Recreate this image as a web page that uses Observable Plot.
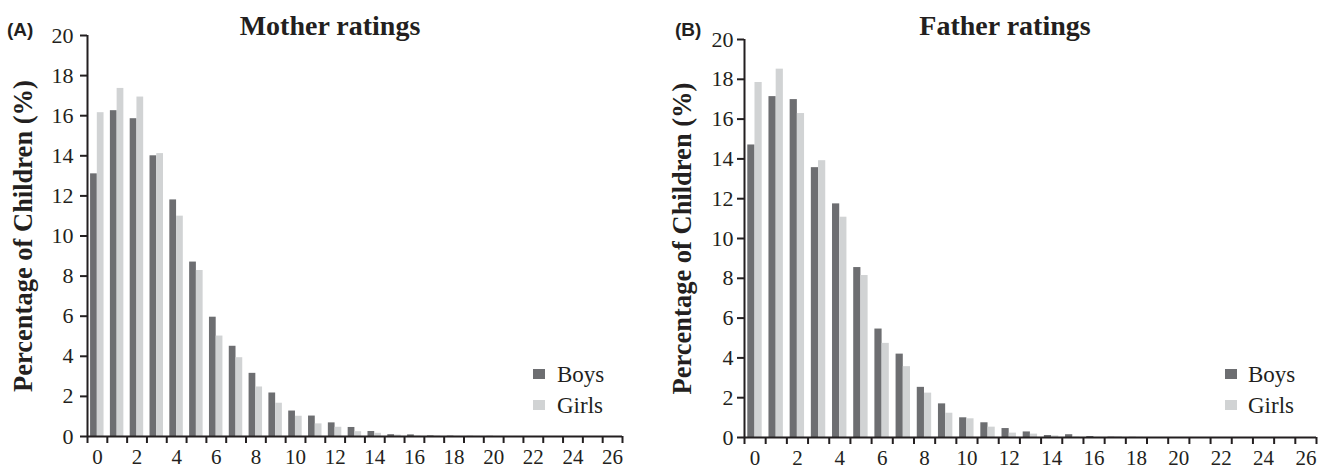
<!DOCTYPE html>
<html><head><meta charset="utf-8">
<script src="https://cdn.jsdelivr.net/npm/d3@7"></script>
<script src="https://cdn.jsdelivr.net/npm/@observablehq/plot@0.6"></script>
<style>
body{margin:0;background:#fff;}
#wrap{position:relative;width:1328px;height:472px;overflow:hidden;font-family:"Liberation Serif","Times New Roman",serif;color:#231f20;background:#fff;}
#wrap svg{position:absolute;top:0;}
.abs{position:absolute;white-space:nowrap;line-height:1;}
.title{font-weight:bold;font-size:28px;transform:translateX(-50%);}
.tag{font-family:"Liberation Sans",Arial,sans-serif;font-weight:bold;font-size:19px;}
.leg{font-size:23px;}
.sw{position:absolute;width:12px;height:10px;}
</style></head><body><div id="wrap"></div>
<script>
// score categories 0..26
const scores = d3.range(0, 27);
const yTicks = d3.range(0, 21, 2);
const xLabels = d3.range(0, 27, 2);
const seriesNames = ["Boys", "Girls"];
const panelTitles = ["Mother ratings", "Father ratings"];
const panelTags = ["(A)", "(B)"];
const yLabel = "Percentage of Children (%)";

const motherBoys  = [13.1, 16.25, 15.85, 14.0, 11.8, 8.7, 5.95, 4.5, 3.15, 2.17, 1.27, 1.02, 0.68, 0.45, 0.25, 0.09, 0.08, 0.03, 0.02, 0.01, 0.01, 0, 0, 0, 0, 0, 0];
const motherGirls = [16.15, 17.36, 16.93, 14.11, 10.99, 8.28, 5.01, 3.93, 2.47, 1.66, 1.01, 0.63, 0.46, 0.24, 0.16, 0.07, 0.02, 0.02, 0.01, 0.01, 0, 0, 0, 0, 0, 0, 0];
const fatherBoys  = [14.7, 17.13, 16.98, 13.56, 11.74, 8.54, 5.45, 4.19, 2.52, 1.69, 0.99, 0.74, 0.45, 0.28, 0.1, 0.14, 0.05, 0.02, 0.01, 0, 0, 0, 0, 0, 0, 0, 0];
const fatherGirls = [17.84, 18.51, 16.28, 13.91, 11.07, 8.14, 4.73, 3.56, 2.23, 1.22, 0.94, 0.52, 0.22, 0.17, 0.08, 0.02, 0.01, 0.04, 0.01, 0, 0, 0, 0, 0, 0, 0, 0];

const BOY = "#6d6e71", GIRL = "#d1d3d4", INK = "#231f20";

function panel(boys, girls, o) {
  const rows = scores.map((k, i) => ({k, boys: boys[i], girls: girls[i]}));
  const bw = (o.width - o.marginLeft - o.marginRight) / scores.length;
  return Plot.plot({
    width: o.width, height: 472,
    marginLeft: o.marginLeft, marginRight: o.marginRight,
    marginTop: o.marginTop, marginBottom: o.marginBottom,
    style: {fontFamily: '"Liberation Serif","Times New Roman",serif', fontSize: "22px", color: INK, background: "transparent", overflow: "visible"},
    x: {domain: [0, scores.length]},
    y: {domain: [0, 20]},
    marks: [
      Plot.rect(rows, {x1: "k", x2: d => d.k + 1, y1: 0, y2: "boys", fill: BOY, insetLeft: bw * 0.155, insetRight: bw * 0.505}),
      Plot.rect(rows, {x1: "k", x2: d => d.k + 1, y1: 0, y2: "girls", fill: GIRL, insetLeft: bw * 0.495, insetRight: bw * 0.165}),
      Plot.axisY({ticks: yTicks, tickSize: 7, tickPadding: o.yPad, strokeWidth: 2, label: null, fontSize: 22}),
      Plot.axisX({ticks: d3.range(0, scores.length + 1), tickSize: 7, strokeWidth: 2, tickFormat: () => "", label: null}),
      Plot.axisX({ticks: xLabels.map(v => v + 0.5), tickSize: 0, tickPadding: 13, tickFormat: v => String(v - 0.5), label: null, fontSize: 21}),
      Plot.ruleX([0], {stroke: INK, strokeWidth: 2}),
      Plot.ruleY([0], {stroke: INK, strokeWidth: 2.2}),
      Plot.text([yLabel], {frameAnchor: "left", textAnchor: "middle", rotate: -90, dx: o.labelDx, fontWeight: "bold", fontSize: 26.5, fill: INK})
    ]
  });
}

const wrap = document.getElementById("wrap");
const left = panel(motherBoys, motherGirls, {width: 640, marginLeft: 87, marginRight: 18, marginTop: 35, marginBottom: 36, yPad: 7, labelDx: -64});
left.style.left = "0px";
wrap.appendChild(left);
const right = panel(fatherBoys, fatherGirls, {width: 668, marginLeft: 84, marginRight: 12, marginTop: 39, marginBottom: 35, yPad: 4, labelDx: -62});
right.style.left = "660px";
wrap.appendChild(right);

function addText(txt, cls, x, y) {
  const d = document.createElement("div");
  d.className = "abs " + cls;
  d.textContent = txt;
  d.style.left = x + "px"; d.style.top = y + "px";
  wrap.appendChild(d);
}
function addSwatch(color, x, y) {
  const d = document.createElement("div");
  d.className = "sw"; d.style.background = color;
  d.style.left = x + "px"; d.style.top = y + "px";
  wrap.appendChild(d);
}
addText(panelTags[0], "tag", 7, 20);
addText(panelTags[1], "tag", 675, 20);
addText(panelTitles[0], "title", 330, 12);
addText(panelTitles[1], "title", 1005, 12);
[[533, 557], [1225, 1248]].forEach(([sx, tx]) => {
  addSwatch(BOY, sx, 369); addText(seriesNames[0], "leg", tx, 362.5);
  addSwatch(GIRL, sx, 400); addText(seriesNames[1], "leg", tx, 393.5);
});
</script></body></html>
